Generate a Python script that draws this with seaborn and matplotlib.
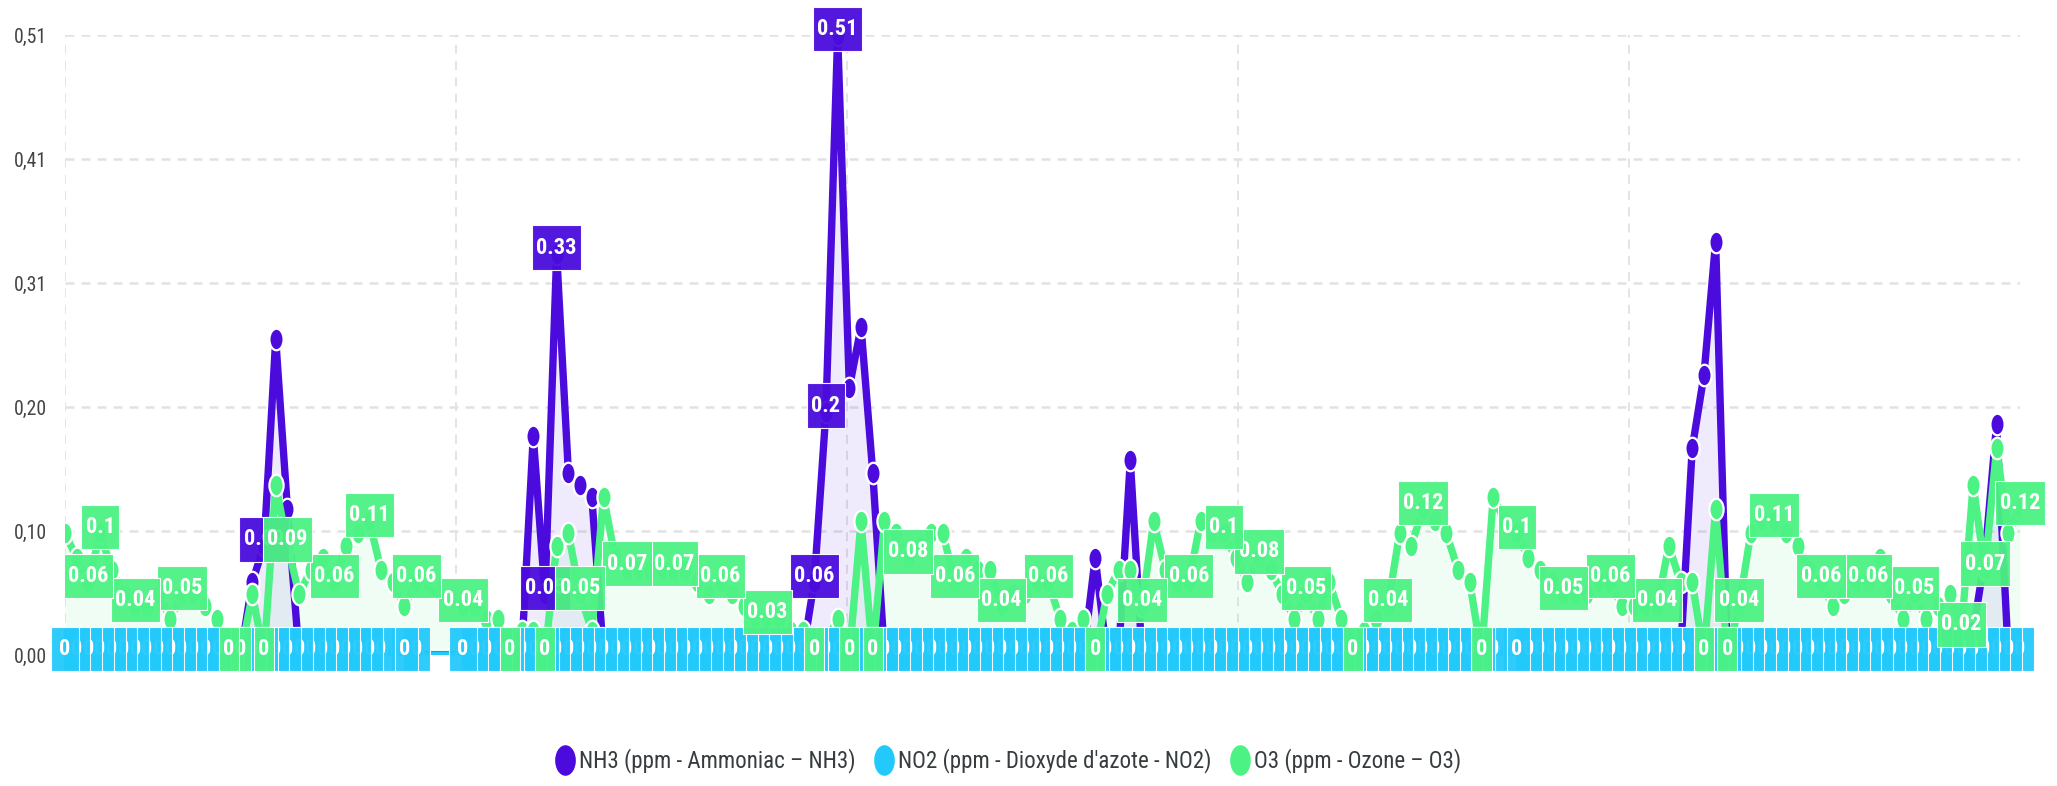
import numpy as np
import pandas as pd
import matplotlib
matplotlib.use("Agg")
import matplotlib.pyplot as plt
from matplotlib import font_manager as fm
from matplotlib.path import Path
from matplotlib.transforms import Affine2D
from matplotlib.lines import Line2D
from matplotlib.ticker import FuncFormatter
import seaborn as sns

# ---------------- data ----------------
series_names = ["NH3 (ppm - Ammoniac \u2013 NH3)",
                "NO2 (ppm - Dioxyde d'azote - NO2)",
                "O3 (ppm - Ozone \u2013 O3)"]
series_colors = ["#4A0BDC", "#22C9FB", "#4CF283"]

# one value per measurement slot (None = no reading at that slot)
nh3 = [0, 0, 0, 0, 0, 0, 0, 0, 0, 0, 0, 0,
       0, 0, 0, 0, 0.06, 0.09, 0.26, 0.12, 0, 0, 0, 0,
       0, 0, 0, 0, 0, 0, 0, None, None, None, 0, 0,
       0, 0, 0, 0, 0.18, 0.05, 0.33, 0.15, 0.14, 0.13, 0, 0,
       0, 0, 0, 0, 0, 0, 0, 0, 0, 0, 0, 0,
       0, 0, 0, 0, 0.06, 0.20, 0.51, 0.22, 0.27, 0.15, 0, 0,
       0, 0, 0, 0, 0, 0, 0, 0, 0, 0, 0, 0,
       0, 0, 0, 0, 0.08, 0, 0, 0.16, 0, 0, 0, 0,
       0, 0, 0, 0, 0, 0, 0, 0, 0, 0, 0, 0,
       0, 0, 0, 0, 0, 0, 0, 0, 0, 0, 0, 0,
       0, 0, 0, 0, 0, 0, 0, 0, 0, 0, 0, 0,
       0, 0, 0, 0, 0, 0, 0, 0.17, 0.23, 0.34, 0, 0,
       0, 0, 0, 0, 0, 0, 0, 0, 0, 0, 0, 0,
       0, 0, 0, 0, 0, 0, 0, 0.02, 0.08, 0.19, 0, 0]

no2 = [0] * 31 + [None, None, None] + [0] * 134

o3 = [0.10, 0.08, 0.06, 0.10, 0.07, 0.05, 0.04, 0.04, 0.05, 0.03, 0.05, 0.05,
      0.04, 0.03, 0, 0, 0.05, 0, 0.14, 0.09, 0.05, 0.07, 0.08, 0.06,
      0.09, 0.10, 0.11, 0.07, 0.06, 0.04, 0.06, None, None, None, 0.04, 0.04,
      0.03, 0.03, 0, 0.02, 0.02, 0, 0.09, 0.10, 0.05, 0.02, 0.13, 0.08,
      0.07, 0.07, 0.07, 0.07, 0.07, 0.07, 0.06, 0.05, 0.06, 0.05, 0.04, 0.03,
      0.03, 0.03, 0.02, 0.02, 0, 0.01, 0.03, 0, 0.11, 0, 0.11, 0.10,
      0.08, 0.09, 0.10, 0.10, 0.06, 0.08, 0.07, 0.07, 0.04, 0.05, 0.05, 0.06,
      0.06, 0.03, 0.02, 0.03, 0, 0.05, 0.07, 0.07, 0.04, 0.11, 0.07, 0.06,
      0.06, 0.11, 0.10, 0.10, 0.08, 0.06, 0.08, 0.07, 0.05, 0.03, 0.05, 0.03,
      0.06, 0.03, 0, 0.02, 0.03, 0.04, 0.10, 0.09, 0.12, 0.11, 0.10, 0.07,
      0.06, 0, 0.13, 0.11, 0.10, 0.08, 0.07, 0.06, 0.05, 0.05, 0.05, 0.06,
      0.06, 0.04, 0.04, 0.04, 0.04, 0.09, 0.06, 0.06, 0, 0.12, 0, 0.04,
      0.10, 0.11, 0.11, 0.10, 0.09, 0.07, 0.06, 0.04, 0.05, 0.06, 0.06, 0.08,
      0.05, 0.03, 0.05, 0.03, 0.04, 0.05, 0.02, 0.14, 0.07, 0.17, 0.10, 0.12]

# slots whose data label is displayed (the others are hidden by overlap)
nh3_label_idx = [17, 41, 42, 64, 65, 66]
o3_label_idx = [2, 3, 6, 10, 14, 15, 17, 19, 23, 26, 30, 34, 38, 41, 44, 48,
                52, 56, 60, 64, 67, 69, 72, 76, 80, 84, 88, 92, 96, 99, 102,
                106, 110, 113, 116, 121, 124, 128, 132, 136, 140, 142, 143,
                146, 150, 154, 158, 162, 164, 167]
no2_hidden_label_idx = [28, 123]

# ---------------- style ----------------
sns.set_style("white")


def pick_font():
    names = {f.name for f in fm.fontManager.ttflist}
    prefs = [("Liberation Sans Narrow", 1.0), ("Arial Narrow", 1.0),
             ("DejaVu Sans Condensed", 0.82), ("Roboto Condensed", 0.92),
             ("Open Sans Condensed", 0.9), ("Noto Sans Condensed", 0.9)]
    for n, s in prefs:
        if n in names:
            return n, s
    return "Liberation Sans", 0.82


font_name, fscale = pick_font()
plt.rcParams["font.family"] = [font_name, "DejaVu Sans"]

W, H = 2057, 786
fig = plt.figure(figsize=(W / 100, H / 100), dpi=100)
ax = fig.add_axes([65 / W, 1 - 655 / H, (2020 - 65) / W, (655 - 35) / H])

n_slots = len(o3)
slots = np.arange(n_slots)


def frame(vals):
    v = pd.Series(vals, dtype="float64")
    m = v.notna().values
    return pd.DataFrame({"slot": slots[m], "value": v.values[m]})


frames = [frame(nh3), frame(no2), frame(o3)]

ellipse = Path(Affine2D().scale(0.66, 1.0).transform(Path.unit_circle().vertices),
               Path.unit_circle().codes)

for k, (df, col) in enumerate(zip(frames, series_colors)):
    if k != 1:
        ax.fill_between(df["slot"], df["value"], 0, color=col, alpha=0.08,
                        lw=0, zorder=1 + k * 0.01)
    sns.lineplot(data=df, x="slot", y="value", ax=ax, color=col, lw=5.3,
                 marker=ellipse, markersize=15.5, markeredgecolor="white",
                 markeredgewidth=1.6, estimator=None, sort=False,
                 legend=False, zorder=2 + k * 0.1)


def make_box(fx, fy):
    def tallbox(x0, y0, width, height, mutation_size):
        px = fx * mutation_size
        py = fy * mutation_size
        verts = [(x0 - px, y0 - py), (x0 + width + px, y0 - py),
                 (x0 + width + px, y0 + height + py), (x0 - px, y0 + height + py),
                 (x0 - px, y0 - py)]
        return Path(verts, closed=True)
    return tallbox


def fmt_val(v):
    return f"{v:g}"


def draw_labels(df, idx_list, col, base_z, padx):
    lookup = dict(zip(df["slot"], df["value"]))
    box = make_box(padx, 0.5)
    for i in idx_list:
        if i not in lookup:
            continue
        v = lookup[i]
        ax.annotate(fmt_val(v), xy=(i, v), xytext=(0, 4.5),
                    textcoords="offset points", ha="center", va="center",
                    color="white", fontsize=17.5 * fscale, fontweight="bold",
                    annotation_clip=False,
                    bbox=dict(boxstyle=box, fc=col, ec="white", lw=0.8,
                              alpha=0.95),
                    zorder=base_z + (n_slots - i) * 1e-3)


draw_labels(frames[0], nh3_label_idx, series_colors[0], 10, 0.2)
no2_idx = [int(s) for s in frames[1]["slot"] if int(s) not in no2_hidden_label_idx]
draw_labels(frames[1], no2_idx, series_colors[1], 11, 0.36)
draw_labels(frames[2], o3_label_idx, series_colors[2], 12, 0.2)

# ---------------- axes ----------------
ymax = max(v for v in nh3 if v is not None)
ax.set_ylim(0, ymax)
ax.set_xlim(0, n_slots - 1)
ax.set_yticks(np.linspace(0, ymax, 6))
ax.yaxis.set_major_formatter(FuncFormatter(lambda v, p: f"{v:.2f}".replace(".", ",")))
ax.set_xticks(np.linspace(0, n_slots - 1, 6)[:-1])
ax.tick_params(axis="x", length=0, labelbottom=False)
ax.tick_params(axis="y", length=0, pad=13, labelsize=15.5 * fscale,
               labelcolor="#444444")
ax.set_xlabel("")
ax.set_ylabel("")
for s in ax.spines.values():
    s.set_visible(False)
ax.yaxis.grid(True, color="#e2e2e2", lw=1.8, ls=(0, (3.6, 2.8)))
ax.xaxis.grid(True, color="#e2e2e2", lw=1.3, ls=(0, (5, 4)))
ax.set_axisbelow(True)

handles = [Line2D([], [], ls="", marker=ellipse, markersize=21,
                  markerfacecolor=c, markeredgecolor=c) for c in series_colors]
fig.legend(handles, series_names, loc="center", bbox_to_anchor=(0.49, 1 - 761 / H),
           ncol=3, frameon=False, fontsize=18 * fscale, handletextpad=0.15,
           columnspacing=0.8, handlelength=0.9, labelcolor="#373d3f")

fig.savefig("out.png", dpi=100)
